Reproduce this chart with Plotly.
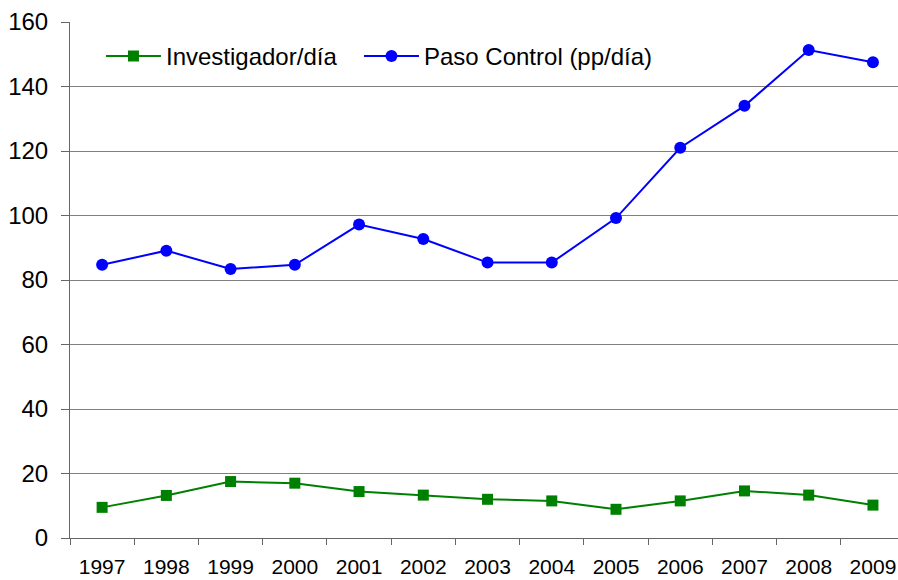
import plotly.graph_objects as go

years = ["1997", "1998", "1999", "2000", "2001", "2002", "2003",
         "2004", "2005", "2006", "2007", "2008", "2009"]
investigador = [9.5, 13.2, 17.5, 17.0, 14.4, 13.3, 12.0, 11.5, 8.9, 11.5, 14.6, 13.3, 10.2]
paso_control = [84.7, 89.1, 83.4, 84.7, 97.2, 92.7, 85.4, 85.4, 99.2, 121.0, 134.0, 151.3, 147.5]

fig = go.Figure()

fig.add_trace(
    go.Scatter(
        x=years,
        y=investigador,
        mode="lines+markers",
        name="Investigador/día",
        line=dict(color="#008000", width=2),
        marker=dict(symbol="square", size=11, color="#008000"),
        legend="legend"
    )
)

fig.add_trace(
    go.Scatter(
        x=years,
        y=paso_control,
        mode="lines+markers",
        name="Paso Control (pp/día)",
        line=dict(color="#0000ff", width=2),
        marker=dict(symbol="circle", size=12, color="#0000ff"),
        legend="legend2"
    )
)

# two legends so each entry can sit exactly where it does in the original
legend_style = dict(
    orientation="h",
    y=0.977,
    xanchor="left",
    yanchor="top",
    font=dict(size=24),
    itemwidth=55,
    bgcolor="rgba(0,0,0,0)",
)

fig.update_layout(
    width=898,
    height=580,
    margin=dict(l=70, r=0, t=22, b=42, autoexpand=False),
    plot_bgcolor="white",
    paper_bgcolor="white",
    font=dict(family="Liberation Sans, Arial, sans-serif", color="black"),
    showlegend=True,
    legend=dict(x=0.0374, **legend_style),
    legend2=dict(x=0.349, **legend_style),
)

fig.update_xaxes(
    type="category",
    range=[-0.5, 12.39],
    automargin=False,
    showgrid=False,
    showline=True,
    linecolor="#666666",
    linewidth=1,
    ticks="outside",
    tickson="boundaries",
    ticklen=6,
    tickcolor="#666666",
    tickfont=dict(size=21),
    ticklabelstandoff=10,
)

fig.update_yaxes(
    range=[0, 160],
    tickvals=[0, 20, 40, 60, 80, 100, 120, 140, 160],
    automargin=False,
    showgrid=True,
    gridcolor="#808080",
    gridwidth=1,
    showline=True,
    linecolor="#666666",
    linewidth=1,
    ticks="outside",
    ticklen=8,
    tickcolor="#666666",
    tickfont=dict(size=24),
    ticklabelstandoff=8,
    zeroline=False,
)

# drop the default page margin so the figure sits at the window's corner
fig.write_html(
    "out.html",
    config={"displayModeBar": False},
    post_script="document.body.style.margin='0px';"
)
